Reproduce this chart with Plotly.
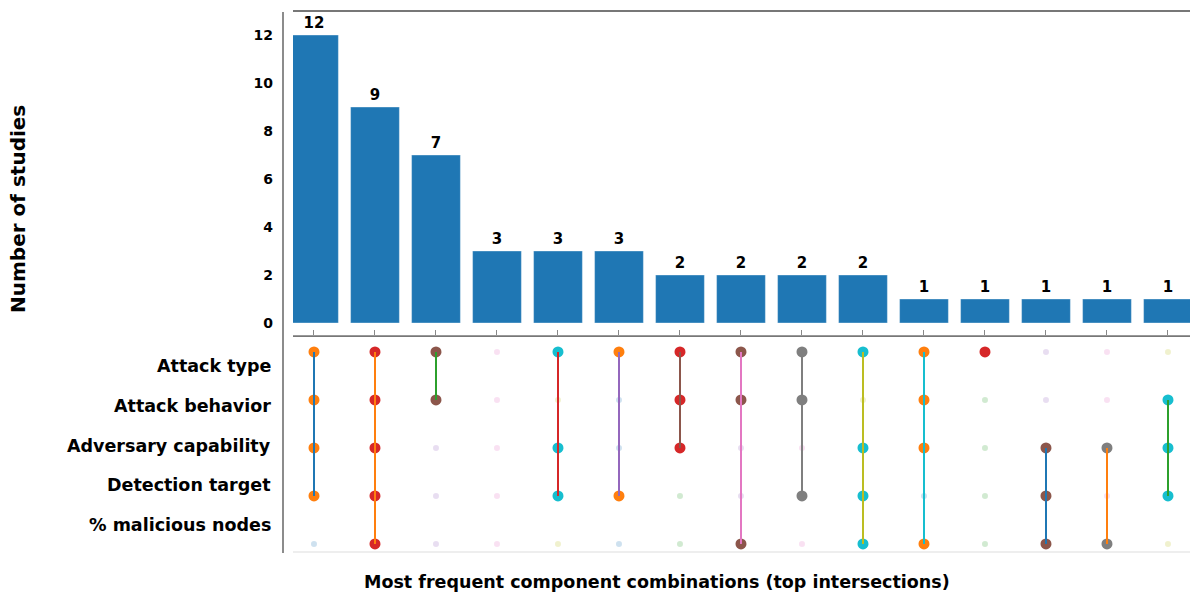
import plotly.graph_objects as go

# Intersection sizes (number of studies per component combination)
counts = [12, 9, 7, 3, 3, 3, 2, 2, 2, 2, 1, 1, 1, 1, 1]

# Components, top to bottom in the membership matrix
components = [
    "Attack type",
    "Attack behavior",
    "Adversary capability",
    "Detection target",
    "% malicious nodes",
]

# Membership of each combination (one list per combination, ordered like `components`)
membership = [
    [1, 1, 1, 1, 0],
    [1, 1, 1, 1, 1],
    [1, 1, 0, 0, 0],
    [0, 0, 0, 0, 0],
    [1, 0, 1, 1, 0],
    [1, 0, 0, 1, 0],
    [1, 1, 1, 0, 0],
    [1, 1, 0, 0, 1],
    [1, 1, 0, 1, 0],
    [1, 0, 1, 1, 1],
    [1, 1, 1, 0, 1],
    [1, 0, 0, 0, 0],
    [0, 0, 1, 1, 1],
    [0, 0, 1, 0, 1],
    [0, 1, 1, 1, 0],
]

y_ticks = [0, 2, 4, 6, 8, 10, 12]

TAB10 = ["#1f77b4", "#ff7f0e", "#2ca02c", "#d62728", "#9467bd",
         "#8c564b", "#e377c2", "#7f7f7f", "#bcbd22", "#17becf"]

W, H = 1190, 594


def px_x(p):
    return p / W


def px_y(p):
    return 1 - p / H


BOLD = dict(family="DejaVu Sans", color="black", weight="bold")

fig = go.Figure()

cols = list(range(len(counts)))

# Bar panel
fig.add_trace(go.Bar(
    x=cols, y=counts, width=0.8,
    marker=dict(color="#1f77b4", line=dict(color="rgba(255,255,255,0.6)", width=0.6)),
    texttemplate="%{y}", textposition="outside", cliponaxis=False,
    textfont=dict(size=15, **BOLD),
    xaxis="x", yaxis="y", showlegend=False, hoverinfo="skip",
))

# Membership matrix: faint dots for absent, coloured dots for present, connector line
rows = list(range(len(components)))
line_idx = 0  # connector colours advance only when a connector is drawn
for i, member in enumerate(membership):
    off = [r for r in rows if not member[r]]
    on = [r for r in rows if member[r]]
    if off:
        fig.add_trace(go.Scatter(
            x=[i] * len(off), y=off, mode="markers",
            marker=dict(size=6, color=TAB10[(2 * i) % 10], opacity=0.22),
            xaxis="x2", yaxis="y2", showlegend=False, hoverinfo="skip",
        ))
    if on:
        fig.add_trace(go.Scatter(
            x=[i] * len(on), y=on, mode="markers",
            marker=dict(size=11, color=TAB10[(2 * i + 1) % 10]),
            xaxis="x2", yaxis="y2", showlegend=False, hoverinfo="skip",
        ))
    if len(on) > 1:
        fig.add_trace(go.Scatter(
            x=[i, i], y=[min(on), max(on)], mode="lines",
            line=dict(color=TAB10[line_idx % 10], width=2),
            xaxis="x2", yaxis="y2", showlegend=False, hoverinfo="skip",
        ))
        line_idx += 1

x_range = [-0.344, 14.361]
x_dom = [px_x(293), 1.0]

fig.update_layout(
    width=W, height=H,
    margin=dict(l=0, r=0, t=0, b=0),
    paper_bgcolor="white", plot_bgcolor="white",
    bargap=0.2,
    xaxis=dict(
        domain=x_dom, range=x_range, anchor="y",
        tickvals=cols, ticks="inside", ticklen=5, tickcolor="#888",
        showticklabels=False, showgrid=False, zeroline=False,
        showline=True, linecolor="#777", linewidth=1.5, mirror=True,
    ),
    yaxis=dict(
        domain=[px_y(335), px_y(12)], range=[-0.5, 12.96], anchor="x",
        tickvals=y_ticks, ticks="", showgrid=False, zeroline=False,
        showline=False, ticklabelstandoff=19,
        tickfont=dict(size=14, **BOLD),
    ),
    xaxis2=dict(
        domain=x_dom, range=x_range, anchor="y2", side="top",
        showticklabels=False, ticks="", showgrid=False, zeroline=False,
        showline=True, linecolor="#999", linewidth=1,
    ),
    yaxis2=dict(
        domain=[px_y(552), px_y(336)], range=[4.167, -0.333], anchor="x2",
        showticklabels=False, ticks="", showgrid=False, zeroline=False,
        showline=False,
    ),
)

shapes = [
    # left frame line spanning both panels
    dict(type="line", xref="paper", yref="paper",
         x0=px_x(283), x1=px_x(283), y0=px_y(12), y1=px_y(553),
         line=dict(color="#666", width=1.5)),
    # faint baseline under the matrix
    dict(type="line", xref="paper", yref="paper",
         x0=px_x(293), x1=1.0, y0=px_y(552), y1=px_y(552),
         line=dict(color="#eeeeee", width=2)),
]
fig.update_layout(shapes=shapes)

annotations = []
# component labels beside the matrix
for k, name in enumerate(components):
    annotations.append(dict(
        text=name, xref="paper", yref="paper",
        x=px_x(273), y=px_y(366 + k * 39.75),
        xanchor="right", yanchor="middle", showarrow=False,
        font=dict(size=17.5, **BOLD),
    ))
# axis titles
annotations.append(dict(
    text="Number of studies", xref="paper", yref="paper",
    x=px_x(18), y=px_y(209), textangle=-90,
    xanchor="center", yanchor="middle", showarrow=False,
    font=dict(size=20, **BOLD),
))
annotations.append(dict(
    text="Most frequent component combinations (top intersections)",
    xref="paper", yref="paper", x=px_x(657), y=px_y(582),
    xanchor="center", yanchor="middle", showarrow=False,
    font=dict(size=17.5, **BOLD),
))
fig.update_layout(annotations=annotations)

fig.write_html("out.html")
